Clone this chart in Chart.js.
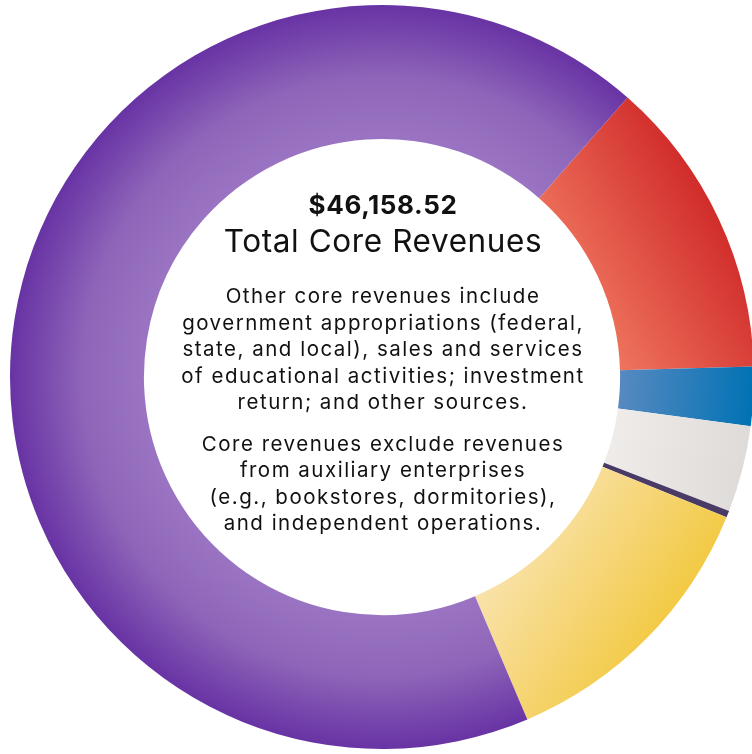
<!DOCTYPE html>
<html lang="en">
<head>
    <meta charset="UTF-8">
    <title>Total Core Revenues</title>
    <script src="https://cdn.jsdelivr.net/npm/chart.js"></script>
    <style>
        body { margin: 0; background: #fff; overflow: hidden; }
        .janela { position: relative; width: 754px; height: 754px; }
        canvas { position: absolute; left: 0; top: 0; }
        .centro { position: absolute; left: 133px; width: 500px; text-align: center; color: #111;
                  font-family: Inter, "Open Sans", sans-serif; }
        .valor { top: 187px; font-size: 26px; font-weight: 700; line-height: 36px; letter-spacing: 0.6px; }
        .titulo { top: 223px; font-size: 31.5px; font-weight: 400; line-height: 36px; letter-spacing: 0.6px; }
        .nota { font-size: 20.5px; line-height: 26.6px; letter-spacing: 1.5px; }
        .nota1 { top: 283px; }
        .nota2 { top: 430.5px; }
    </style>
</head>
<body>
<div class="janela">
    <canvas id="myChart" width="754" height="754"></canvas>
    <div class="centro valor">$46,158.52</div>
    <div class="centro titulo">Total Core Revenues</div>
    <div class="centro nota nota1">Other core revenues include<br>government appropriations (federal,<br>state, and local), sales and services<br>of educational activities; investment<br>return; and other sources.</div>
    <div class="centro nota nota2">Core revenues exclude revenues<br>from auxiliary enterprises<br>(e.g., bookstores, dormitories),<br>and independent operations.</div>
</div>

<script>
    // valores (dolares), na ordem horaria a partir do segmento vermelho
    var categorias = ['Segment 1', 'Segment 2', 'Segment 3', 'Segment 4', 'Segment 5', 'Segment 6'];
    var valores = [6039, 1180, 1730, 135, 5751, 31324];

    // cores: [inicio, fim, x0, y0, x1, y1] em unidades do raio, relativo ao centro
    var gradientes = [
        ['#f27d63', '#d12d2b', 0.62, 0.05, 1.04, -0.2],
        ['#5789c0', '#0072b4', 0.64, 0.03, 1.0, 0.05],
        ['#efecea', '#dedad7', 0.61, 0.14, 1.0, 0.2],
        null,
        ['#f9e2ab', '#f0c11e', 0.32, 0.49, 0.85, 0.84],
        null
    ];

    function cor(context) {
        var chart = context.chart;
        var area = chart.chartArea;
        var i = context.dataIndex;
        if (!area) return '#888';
        var c = chart.ctx;
        var cx = (area.left + area.right) / 2;
        var cy = (area.top + area.bottom) / 2;
        var r = Math.min(area.right - area.left, area.bottom - area.top) / 2;
        if (i == 3) return '#4a3b66';
        if (i == 5) {
            var rg = c.createRadialGradient(cx, cy, r * 0.64, cx, cy, r);
            rg.addColorStop(0, '#9a74c2');
            rg.addColorStop(0.45, '#8e66b9');
            rg.addColorStop(1, '#6833a4');
            return rg;
        }
        var g = gradientes[i];
        var lg = c.createLinearGradient(cx + g[2] * r, cy + g[3] * r, cx + g[4] * r, cy + g[5] * r);
        lg.addColorStop(0, g[0]);
        lg.addColorStop(1, g[1]);
        return lg;
    }

    const ctx = document.getElementById('myChart');

    new Chart(ctx, {
        type: 'doughnut',
        data: {
            labels: categorias,
            datasets: [{
                data: valores,
                backgroundColor: cor,
                borderWidth: 0
            }]
        },
        options: {
            responsive: false,
            animation: false,
            rotation: 41.3,
            cutout: '64%',
            layout: {
                padding: { left: 10, top: 5, bottom: 5, right: 0 }
            },
            plugins: {
                legend: { display: false },
                tooltip: { enabled: false }
            }
        }
    });
</script>
</body>
</html>
